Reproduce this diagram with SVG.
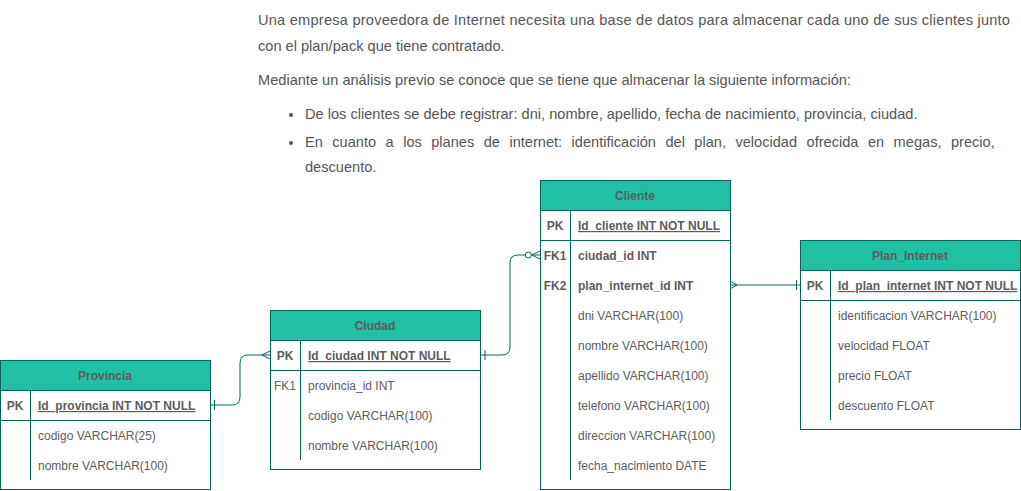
<svg xmlns="http://www.w3.org/2000/svg" width="1021" height="491" viewBox="0 0 1021 491">
<style>
.p{font-family:"Liberation Sans",Arial,sans-serif;font-size:14.6px;fill:#555555}
.box{fill:#ffffff;stroke:#006658;stroke-width:1}
.hd{fill:#21C0A5;stroke:#006658;stroke-width:1}
.ln{stroke:#006658;stroke-width:1;fill:none}
.t{font-family:"Liberation Sans",Arial,sans-serif;font-size:12px;fill:#5C5C5C}
.b{font-weight:bold}
.c{text-anchor:middle}
.u{text-decoration:underline}
.e{stroke:#006658;stroke-width:1;fill:none}
</style>
<g id="text">
<text class="p" x="258" y="25" textLength="752" lengthAdjust="spacing">Una empresa proveedora de Internet necesita una base de datos para almacenar cada uno de sus clientes junto</text>
<text class="p" x="258" y="51">con el plan/pack que tiene contratado.</text>
<text class="p" x="258" y="85">Mediante un análisis previo se conoce que se tiene que almacenar la siguiente información:</text>
<circle cx="291" cy="115" r="2" fill="#555555"/>
<text class="p" x="305" y="119">De los clientes se debe registrar: dni, nombre, apellido, fecha de nacimiento, provincia, ciudad.</text>
<circle cx="291" cy="143" r="2" fill="#555555"/>
<text class="p" x="305" y="147" word-spacing="5.4">En cuanto a los planes de internet: identificación del plan, velocidad ofrecida en megas, precio,</text>
<text class="p" x="305" y="172">descuento.</text>
</g>
<g id="connectors">
<path class="e" d="M210 405 H232 Q240 405 240 397 V363 Q240 355 248 355 H270"/>
<path class="e" d="M214.5 400 V410"/>
<path class="e" d="M262 355 L270 351 M262 355 L270 359"/>
<path class="e" d="M480 355 H502 Q510 355 510 347 V263 Q510 255 518 255 H525"/>
<path class="e" d="M485 350 V360"/>
<circle class="e" cx="528.3" cy="255" r="3"/>
<path class="e" d="M531.3 255 H540 M532 255 L540 251 M532 255 L540 259"/>
<path class="e" d="M730 285 H800"/>
<path class="e" d="M730 281 L737 285 L730 289"/>
<path class="e" d="M796.5 280 V290"/>
</g>
<g id="provincia">
<rect class="box" x="0.5" y="360.5" width="210" height="129"/>
<rect class="hd" x="0.5" y="360.5" width="210" height="30"/>
<path class="ln" d="M0.5 420.5 H210.5 M30.5 390.5 V480"/>
<text class="t b c" x="105" y="380">Provincia</text>
<text class="t b c" x="15" y="410">PK</text>
<text class="t b u" x="38" y="410">Id_provincia INT NOT NULL</text>
<text class="t" x="38" y="440">codigo VARCHAR(25)</text>
<text class="t" x="38" y="470">nombre VARCHAR(100)</text>
</g>
<g id="ciudad">
<rect class="box" x="270.5" y="310.5" width="210" height="159"/>
<rect class="hd" x="270.5" y="310.5" width="210" height="30"/>
<path class="ln" d="M270.5 370.5 H480.5 M300.5 340.5 V460"/>
<text class="t b c" x="375" y="330">Ciudad</text>
<text class="t b c" x="285" y="360">PK</text>
<text class="t b u" x="308" y="360">Id_ciudad INT NOT NULL</text>
<text class="t c" x="285" y="390">FK1</text>
<text class="t" x="308" y="390">provincia_id INT</text>
<text class="t" x="308" y="420">codigo VARCHAR(100)</text>
<text class="t" x="308" y="450">nombre VARCHAR(100)</text>
</g>
<g id="cliente">
<rect class="box" x="540.5" y="180.5" width="190" height="309"/>
<rect class="hd" x="540.5" y="180.5" width="190" height="30"/>
<path class="ln" d="M540.5 240.5 H730.5 M570.5 210.5 V480"/>
<text class="t b c" x="635" y="200">Cliente</text>
<text class="t b c" x="555" y="230">PK</text>
<text class="t b u" x="578" y="230">Id_cliente INT NOT NULL</text>
<text class="t b c" x="555" y="260">FK1</text>
<text class="t b" x="578" y="260">ciudad_id INT</text>
<text class="t b c" x="555" y="290">FK2</text>
<text class="t b" x="578" y="290">plan_internet_id INT</text>
<text class="t" x="578" y="320">dni VARCHAR(100)</text>
<text class="t" x="578" y="350">nombre VARCHAR(100)</text>
<text class="t" x="578" y="380">apellido VARCHAR(100)</text>
<text class="t" x="578" y="410">telefono VARCHAR(100)</text>
<text class="t" x="578" y="440">direccion VARCHAR(100)</text>
<text class="t" x="578" y="470">fecha_nacimiento DATE</text>
</g>
<g id="plan_internet">
<rect class="box" x="800.5" y="240.5" width="220" height="189"/>
<rect class="hd" x="800.5" y="240.5" width="220" height="30"/>
<path class="ln" d="M800.5 300.5 H1020.5 M830.5 270.5 V420"/>
<text class="t b c" x="910" y="260">Plan_Internet</text>
<text class="t b c" x="815" y="290">PK</text>
<text class="t b u" x="838" y="290">Id_plan_internet INT NOT NULL</text>
<text class="t" x="838" y="320">identificacion VARCHAR(100)</text>
<text class="t" x="838" y="350">velocidad FLOAT</text>
<text class="t" x="838" y="380">precio FLOAT</text>
<text class="t" x="838" y="410">descuento FLOAT</text>
</g>
</svg>
